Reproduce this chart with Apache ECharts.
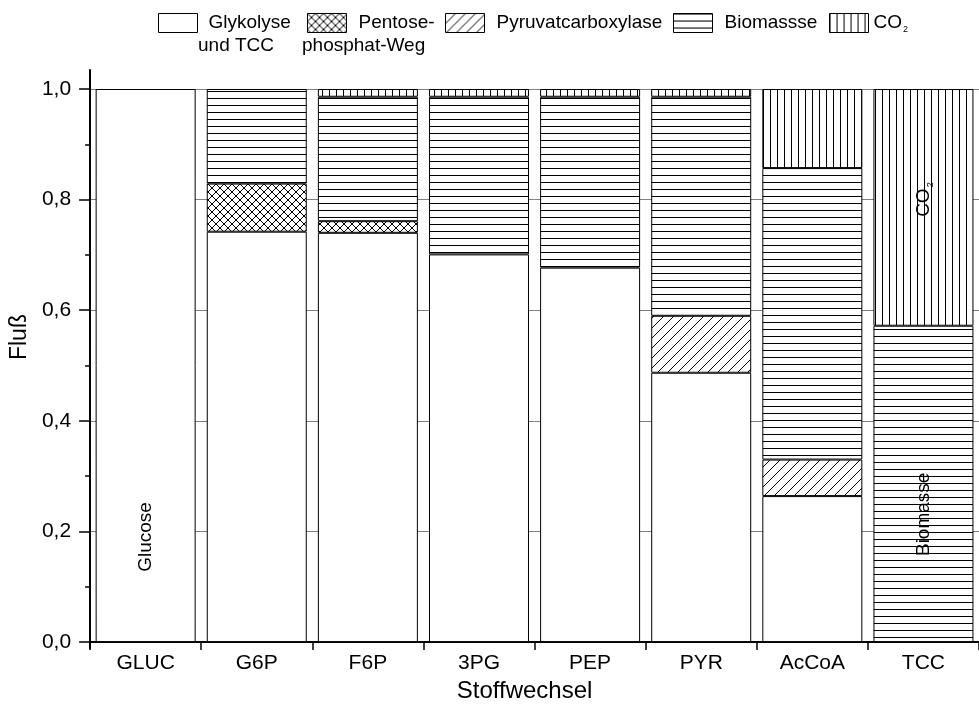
<!DOCTYPE html>
<html><head><meta charset="utf-8">
<script src="https://cdn.jsdelivr.net/npm/echarts@6/dist/echarts.min.js"></script>
<style>html,body{margin:0;padding:0;background:#fff}#c{width:979px;height:708px}</style>
</head><body><div id="c"></div>
<script>
// ---- data ----
const categories = ['GLUC', 'G6P', 'F6P', '3PG', 'PEP', 'PYR', 'AcCoA', 'TCC'];
const glykolyse = [1.0, 0.742, 0.740, 0.701, 0.677, 0.487, 0.264, null];
const pentose   = [null, 0.087, 0.021, null, null, null, null, null];
const pyruvat   = [null, null, null, null, null, 0.103, 0.066, null];
const biomasse  = [null, 0.171, 0.225, 0.285, 0.309, 0.396, 0.527, 0.572];
const co2       = [null, null, 0.014, 0.014, 0.014, 0.014, 0.143, 0.428];
const yTicks = [0, 0.2, 0.4, 0.6, 0.8, 1.0];
const seriesNames = ['Glykolyse', 'Pentose-', 'Pyruvatcarboxylase', 'Biomassse', 'CO2'];
const legendSecondLines = ['und TCC', 'phosphat-Weg'];
const barTextNames = ['Glucose', 'Biomasse', 'CO2'];
const barTextCats  = ['GLUC', 'TCC', 'TCC'];
const barTextVals  = [0.19, 0.231, 0.80];

// ---- styles ----
const FONT = "'Liberation Sans', Arial, Helvetica, sans-serif";
function makePattern(w, h, lw, draw) {
  const c = document.createElement('canvas'); c.width = w; c.height = h;
  const g = c.getContext('2d');
  g.fillStyle = '#fff'; g.fillRect(0, 0, w, h);
  g.strokeStyle = '#000'; g.lineWidth = lw; g.beginPath(); draw(g, w, h); g.stroke();
  return { image: c, repeat: 'repeat' };
}
const pCross = makePattern(8, 8, 1, (g, w, h) => { g.moveTo(0, 0); g.lineTo(w, h); g.moveTo(0, h); g.lineTo(w, 0); });
const pDiag = makePattern(10, 10, 1, (g, w, h) => { g.moveTo(0, h); g.lineTo(w, 0); g.moveTo(-1, 1); g.lineTo(1, -1); g.moveTo(w - 1, h + 1); g.lineTo(w + 1, h - 1); });
const pHoriz = makePattern(8, 7, 1, (g, w, h) => { g.moveTo(0, 0.5); g.lineTo(w, 0.5); });
const pVert = makePattern(7, 8, 1, (g, w, h) => { g.moveTo(0.5, 0); g.lineTo(0.5, h); });
const fills = ['#ffffff', pCross, pDiag, pHoriz, pVert];
const values = [glykolyse, pentose, pyruvat, biomasse, co2];

const subRich = { s: { fontSize: 9, padding: [14, 0, 0, 1], fontFamily: FONT, color: '#000' } };
const fmtName = n => n === 'CO2' ? 'CO{s|2}' : n;

const legendLeft = [158, 307, 445, 673, 829];
const legendPad = [6, 7, 7, 7, 0];

const series = seriesNames.map((n, i) => ({
  type: 'bar', name: n, stack: 'total', data: values[i],
  xAxisIndex: 0, yAxisIndex: 0,
  barCategoryGap: '10%',
  itemStyle: { color: fills[i], borderColor: '#000', borderWidth: 1 },
  emphasis: { disabled: true }, silent: true
}));
series.push({
  type: 'scatter', name: 'labels', xAxisIndex: 0, yAxisIndex: 0,
  data: barTextCats.map((c, i) => ({ name: barTextNames[i], value: [c, barTextVals[i]] })),
  symbolSize: 0.1, itemStyle: { color: 'transparent', opacity: 1 }, z: 10, silent: true,
  emphasis: { disabled: true },
  label: { show: true, position: 'inside', rotate: 90, fontSize: 19, color: '#000', fontFamily: FONT,
    opacity: 1, textBorderWidth: 0, textShadowBlur: 0,
    formatter: p => fmtName(p.name), rich: subRich }
});

const option = {
  animation: false,
  backgroundColor: '#fff',
  textStyle: { fontFamily: FONT, color: '#000' },
  grid: [
    { left: 90, top: 89, width: 900, height: 559 },
    { left: 90, top: 70, width: 900, height: 578 }
  ],
  legend: seriesNames.map((n, i) => ({
    data: [n], left: legendLeft[i], top: 13, padding: 0, orient: 'horizontal',
    itemWidth: 39, itemHeight: 19, itemGap: 0, selectedMode: false, icon: 'rect',
    itemStyle: { borderColor: '#000', borderWidth: 1 },
    formatter: fmtName,
    textStyle: { fontSize: 19, color: '#000', fontFamily: FONT, padding: [0, 0, 0, legendPad[i]], rich: subRich }
  })),
  graphic: [
    { type: 'text', left: 198, top: 36, style: { text: legendSecondLines[0], font: '19px ' + FONT, fill: '#000' } },
    { type: 'text', left: 302, top: 36, style: { text: legendSecondLines[1], font: '19px ' + FONT, fill: '#000' } }
  ],
  xAxis: [{
    type: 'category', data: categories, gridIndex: 0,
    axisLine: { show: true, lineStyle: { color: '#000', width: 2 } },
    axisTick: { show: true, length: 8, lineStyle: { color: '#000', width: 1.5 } },
    axisLabel: { fontSize: 21, color: '#000', margin: 11, fontFamily: FONT },
    splitLine: { show: false },
    name: 'Stoffwechsel', nameLocation: 'middle', nameGap: 32,
    nameTextStyle: { fontSize: 24, color: '#000', fontFamily: FONT, padding: [0, 20, 0, 0] }
  }, {
    type: 'category', data: categories, gridIndex: 1, show: false
  }],
  yAxis: [{
    type: 'value', gridIndex: 0,
    min: yTicks[0], max: yTicks[yTicks.length - 1], interval: yTicks[1] - yTicks[0],
    axisLine: { show: true, lineStyle: { color: '#000', width: 2 } },
    axisTick: { show: true, length: 11, lineStyle: { color: '#000', width: 1.5 } },
    minorTick: { show: true, splitNumber: 2, length: 5, lineStyle: { color: '#000', width: 1.5 } },
    splitLine: { show: true, lineStyle: { color: '#808080', width: 1 } },
    axisLabel: { fontSize: 21, color: '#000', margin: 19, fontFamily: FONT,
      formatter: v => v.toFixed(1).replace('.', ',') },
    name: 'Fluß', nameLocation: 'middle', nameGap: 56,
    nameTextStyle: { fontSize: 23, color: '#000', fontFamily: FONT, padding: [0, 0, 0, 57] }
  }, {
    type: 'value', gridIndex: 1, min: 0, max: 1,
    axisLine: { show: true, lineStyle: { color: '#000', width: 2 } },
    axisTick: { show: false }, axisLabel: { show: false }, splitLine: { show: false }
  }],
  series: series
};
const chart = echarts.init(document.getElementById('c'), null, { renderer: 'canvas' });
chart.setOption(option);
</script>
</body></html>
